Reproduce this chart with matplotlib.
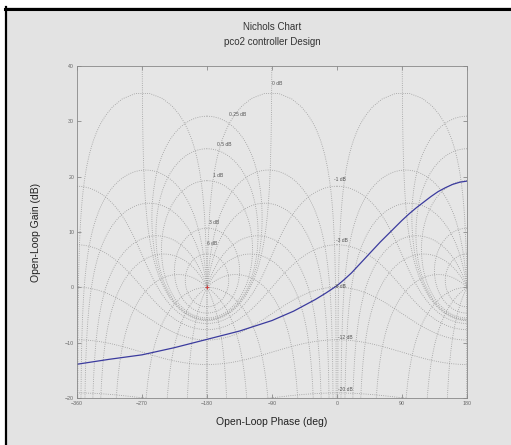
import numpy as np
import matplotlib
matplotlib.use("Agg")
import matplotlib.pyplot as plt
from matplotlib.patches import Rectangle
from matplotlib.lines import Line2D

plt.rcParams['font.family'] = ['Liberation Sans', 'DejaVu Sans']

# open-loop response (phase in deg, gain in dB)
ol_phase = [-360, -315, -270, -225, -180, -135, -90, -60, -30, -15, 0,
            10, 20, 30, 40, 50, 60, 70, 80, 90, 100, 110, 120, 130,
            140, 150, 160, 170, 180]
ol_gain = [-13.9, -13.0, -12.2, -10.9, -9.4, -7.9, -6.0, -4.3, -2.2, -1.0, 0.3,
           1.4, 2.6, 4.0, 5.4, 6.8, 8.2, 9.5, 10.8, 12.1, 13.3, 14.4, 15.4, 16.4,
           17.3, 18.0, 18.6, 19.0, 19.2]

# Nichols grid levels (closed-loop)
cl_mag_db = [6, 3, 1, 0.5, 0.25, 0, -1, -3, -6, -12, -20, -40]
cl_phase_deg = [1, 5, 10, 20, 30, 50, 90, 120, 150, 180]

# grid labels and where they sit
lbl_text = ['6 dB', '3 dB', '1 dB', '0.5 dB', '0.25 dB', '0 dB',
            '-1 dB', '-3 dB', '-6 dB', '-12 dB', '-20 dB']
lbl_phase = [-173, -170, -165, -156, -138, -83, 4, 7, 4, 11, 11]
lbl_gain = [8.0, 11.7, 20.2, 25.9, 31.2, 36.9, 19.4, 8.5, 0.2, -9.0, -18.4]

grid_col = '#9a9a9a'
bg = '#e3e3e3'

fig = plt.figure(figsize=(5.11, 4.45), dpi=100, facecolor='white')
W, H = 511.0, 445.0
fig.patches.append(Rectangle((5 / W, 0), 1, 1 - 7 / H, transform=fig.transFigure,
                             facecolor=bg, edgecolor='none', zorder=-10))
fig.lines.append(Line2D([5 / W, 1], [1 - 8.5 / H, 1 - 8.5 / H], transform=fig.transFigure,
                        color='black', lw=2.2))
fig.lines.append(Line2D([6 / W, 6 / W], [0, 1 - 7 / H], transform=fig.transFigure,
                        color='black', lw=1.6))

ax = fig.add_axes([77 / W, 47 / H, 390 / W, 332 / H])
ax.set_facecolor('#e6e6e6')


def to_nichols(T):
    L = T / (1 - T)
    ph = np.degrees(np.unwrap(np.angle(L)))
    g = 20 * np.log10(np.abs(L))
    return ph, g


shifts = [-720, -360, 0, 360, 720]

# constant closed-loop magnitude curves
for m_db in cl_mag_db:
    M = 10 ** (m_db / 20.0)
    if m_db == 0:
        th = np.linspace(1e-3, 2 * np.pi - 1e-3, 1500)
    else:
        th = np.linspace(0, 2 * np.pi, 1500)
    ph, g = to_nichols(M * np.exp(1j * th))
    for s in shifts:
        ax.plot(ph + s, g, ':', color=grid_col, lw=0.6)

# constant closed-loop phase curves
r = np.logspace(-4, 4, 3000)
for p in cl_phase_deg:
    for psi in (-p, p):
        ph, g = to_nichols(r * np.exp(1j * np.radians(psi)))
        for s in shifts:
            ax.plot(ph + s, g, ':', color=grid_col, lw=0.6)

for t, x, y in zip(lbl_text, lbl_phase, lbl_gain):
    ax.text(x, y, t, fontsize=3.6, color='#555555', ha='center', va='center')

ax.plot(ol_phase, ol_gain, color='#3b3b9e', lw=0.9)
ax.plot([-180], [0], '+', color='#d04040', ms=3, mew=0.7)

ax.set_xlim(-360, 180)
ax.set_ylim(-20, 40)
ax.set_xticks([-360, -270, -180, -90, 0, 90, 180])
ax.set_yticks([-20, -10, 0, 10, 20, 30, 40])
ax.tick_params(direction='in', top=True, right=True, labelsize=3.8, length=3,
               width=0.5, colors='#777777', labelcolor='#666666', pad=2)
for sp in ax.spines.values():
    sp.set_color('#888888')
    sp.set_linewidth(0.6)

ax.set_title('Nichols Chart\npco2 controller Design', fontsize=7, color='#333333',
             pad=15, linespacing=1.6)
ax.set_xlabel('Open-Loop Phase (deg)', fontsize=7.5, color='#222222', labelpad=8)
ax.set_ylabel('Open-Loop Gain (dB)', fontsize=7.5, color='#222222', labelpad=17)

fig.savefig('out.png', dpi=100, facecolor=fig.get_facecolor())
